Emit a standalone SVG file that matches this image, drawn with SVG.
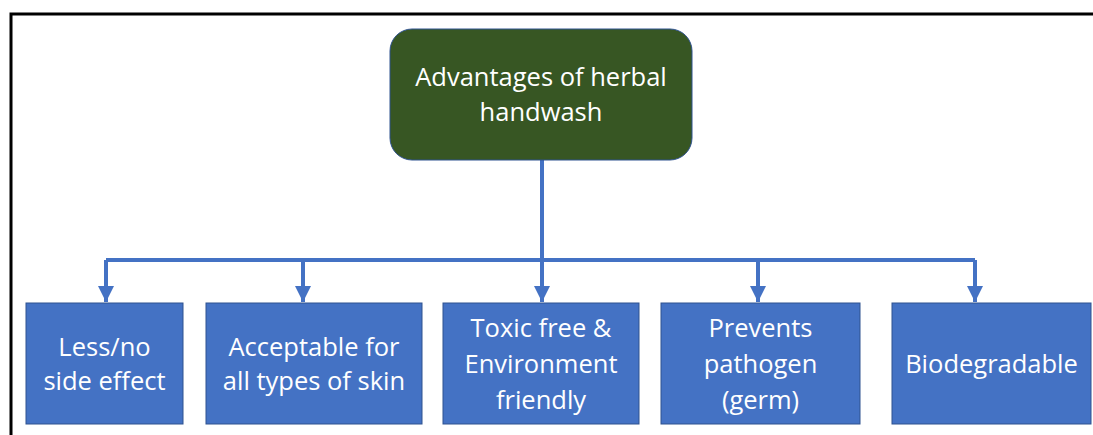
<svg xmlns="http://www.w3.org/2000/svg" width="1093" height="435" viewBox="0 0 1093 435">
<style>
.txt{font-family:"Open Sans",Lato,"Liberation Sans",sans-serif;font-size:25.5px;fill:#ffffff;text-anchor:middle}
.box{fill:#4472C4;stroke:#2F528F;stroke-width:1}
.conn{fill:none;stroke:#4472C4;stroke-width:4}
</style>
<defs>
<marker id="arr" viewBox="0 0 10 10" refX="10" refY="5" markerWidth="4" markerHeight="4" markerUnits="strokeWidth" orient="auto">
<path d="M0,0 L10,5 L0,10 z" fill="#4472C4"/>
</marker>
</defs>
<rect width="1093" height="435" fill="#ffffff"/>
<path d="M11,435 L11,14 L1093,14" fill="none" stroke="#000000" stroke-width="3"/>
<g id="connectors">
<path class="conn" d="M542,160 L542,262"/>
<path class="conn" d="M106,260 L975,260"/>
<path class="conn" d="M106,260 L106,302" marker-end="url(#arr)"/>
<path class="conn" d="M303,260 L303,302" marker-end="url(#arr)"/>
<path class="conn" d="M542,260 L542,302" marker-end="url(#arr)"/>
<path class="conn" d="M758,260 L758,302" marker-end="url(#arr)"/>
<path class="conn" d="M975,260 L975,302" marker-end="url(#arr)"/>
</g>
<g id="root">
<rect x="390" y="29" width="302" height="131" rx="22" fill="#375623" stroke="#2F528F" stroke-width="1"/>
<text class="txt" x="541" y="86">Advantages of herbal</text>
<text class="txt" x="541" y="121">handwash</text>
</g>
<g id="n1">
<rect class="box" x="26" y="303" width="157" height="121"/>
<text class="txt" x="104.5" y="356">Less/no</text>
<text class="txt" x="104.5" y="390">side effect</text>
</g>
<g id="n2">
<rect class="box" x="206" y="303" width="216" height="121"/>
<text class="txt" x="314" y="356">Acceptable for</text>
<text class="txt" x="314" y="390">all types of skin</text>
</g>
<g id="n3">
<rect class="box" x="443" y="303" width="196" height="121"/>
<text class="txt" x="541" y="337">Toxic free &amp;</text>
<text class="txt" x="541" y="373">Environment</text>
<text class="txt" x="541" y="409">friendly</text>
</g>
<g id="n4">
<rect class="box" x="661" y="303" width="199" height="121"/>
<text class="txt" x="760.5" y="337">Prevents</text>
<text class="txt" x="760.5" y="373">pathogen</text>
<text class="txt" x="760.5" y="409">(germ)</text>
</g>
<g id="n5">
<rect class="box" x="892" y="303" width="199" height="121"/>
<text class="txt" x="991.5" y="373">Biodegradable</text>
</g>
</svg>
